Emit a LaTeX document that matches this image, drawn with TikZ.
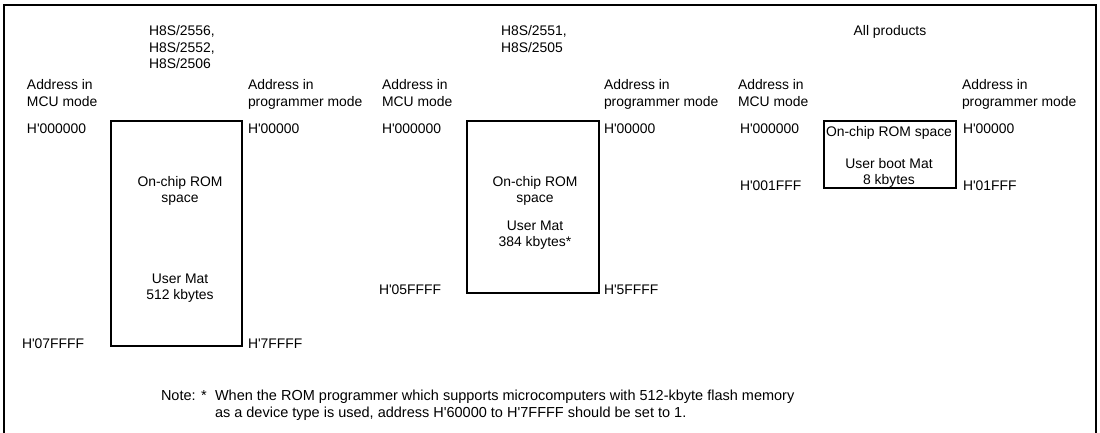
\documentclass[tikz,border=0pt]{standalone}
\usepackage{fontspec}
\setmainfont{Liberation Sans}
\newcommand{\aq}{\textquotesingle}
\begin{document}
\begin{tikzpicture}[x=1pt,y=-1pt,
  every node/.style={inner sep=0pt,outer sep=0pt,font=\fontsize{13.9}{16.5}\selectfont},
  lt/.style={anchor=base west},
  ct/.style={anchor=base},
  notetext/.style={anchor=base west,font=\fontsize{14.5}{17}\selectfont},
  mem/.style={draw,line width=2pt,inner sep=0pt},
  frame/.style={line width=2pt}]
\useasboundingbox (0,0) rectangle (1100,433);
% frame
\coordinate (fbl) at (4,434);
\coordinate (ftl) at (4,5);
\coordinate (ftr) at (1096,5);
\coordinate (fbr) at (1096,434);
\draw[frame] (fbl) -- (ftl) -- (ftr) -- (fbr);
% boxes
\node[mem,minimum width=131pt,minimum height=225pt] (b1) at (176.5,233.5) {};
\node[mem,minimum width=132pt,minimum height=172pt] (b2) at (533,207) {};
\node[mem,minimum width=132pt,minimum height=67pt] (b3) at (890,154.5) {};
% panel 1
\node[lt] (p1a) at (149,36) {H8S/2556,};
\node[lt] (p1b) at (149,52.5) {H8S/2552,};
\node[lt] (p1c) at (149,69) {H8S/2506};
\node[lt] (m1a) at (27,90) {Address in};
\node[lt] (m1b) at (27,106.5) {MCU mode};
\node[lt] (g1a) at (248,90) {Address in};
\node[lt] (g1b) at (248,106.5) {programmer mode};
\node[lt] (s1) at (27,134) {H\aq000000};
\node[lt] (t1) at (248,134) {H\aq00000};
\node[ct] (r1a) at (180,186) {On-chip ROM};
\node[ct] (r1b) at (180,202.5) {space};
\node[ct] (u1a) at (180,283) {User Mat};
\node[ct] (u1b) at (180,299.5) {512 kbytes};
\node[lt] (e1) at (22,348) {H\aq07FFFF};
\node[lt] (f1) at (248,348) {H\aq7FFFF};
% panel 2
\node[lt] (p2a) at (501,36) {H8S/2551,};
\node[lt] (p2b) at (501,52.5) {H8S/2505};
\node[lt] (m2a) at (382,90) {Address in};
\node[lt] (m2b) at (382,106.5) {MCU mode};
\node[lt] (g2a) at (604,90) {Address in};
\node[lt] (g2b) at (604,106.5) {programmer mode};
\node[lt] (s2) at (382,134) {H\aq000000};
\node[lt] (t2) at (604,134) {H\aq00000};
\node[ct] (r2a) at (535,186) {On-chip ROM};
\node[ct] (r2b) at (535,202.5) {space};
\node[ct] (u2a) at (535,230) {User Mat};
\node[ct] (u2b) at (535,246.5) {384 kbytes*};
\node[lt] (e2) at (379,294) {H\aq05FFFF};
\node[lt] (f2) at (604,294) {H\aq5FFFF};
% panel 3
\node[ct] (p3a) at (890,36) {All products};
\node[lt] (m3a) at (738,90) {Address in};
\node[lt] (m3b) at (738,106.5) {MCU mode};
\node[lt] (g3a) at (962,90) {Address in};
\node[lt] (g3b) at (962,106.5) {programmer mode};
\node[lt] (s3) at (740,134) {H\aq000000};
\node[lt] (t3) at (963,134) {H\aq00000};
\node[ct] (r3a) at (889,137) {On-chip ROM space};
\node[ct] (u3a) at (889,168) {User boot Mat};
\node[ct] (u3b) at (889,184) {8 kbytes};
\node[lt] (e3) at (740,190) {H\aq001FFF};
\node[lt] (f3) at (963,190) {H\aq01FFF};
% note
\node[notetext] (n0) at (161,400) {Note: *};
\node[notetext] (n1) at (215,400) {When the ROM programmer which supports microcomputers with 512-kbyte flash memory};
\node[notetext] (n2) at (215,417) {as a device type is used, address H\aq60000 to H\aq7FFFF should be set to 1.};
\end{tikzpicture}
\end{document}
